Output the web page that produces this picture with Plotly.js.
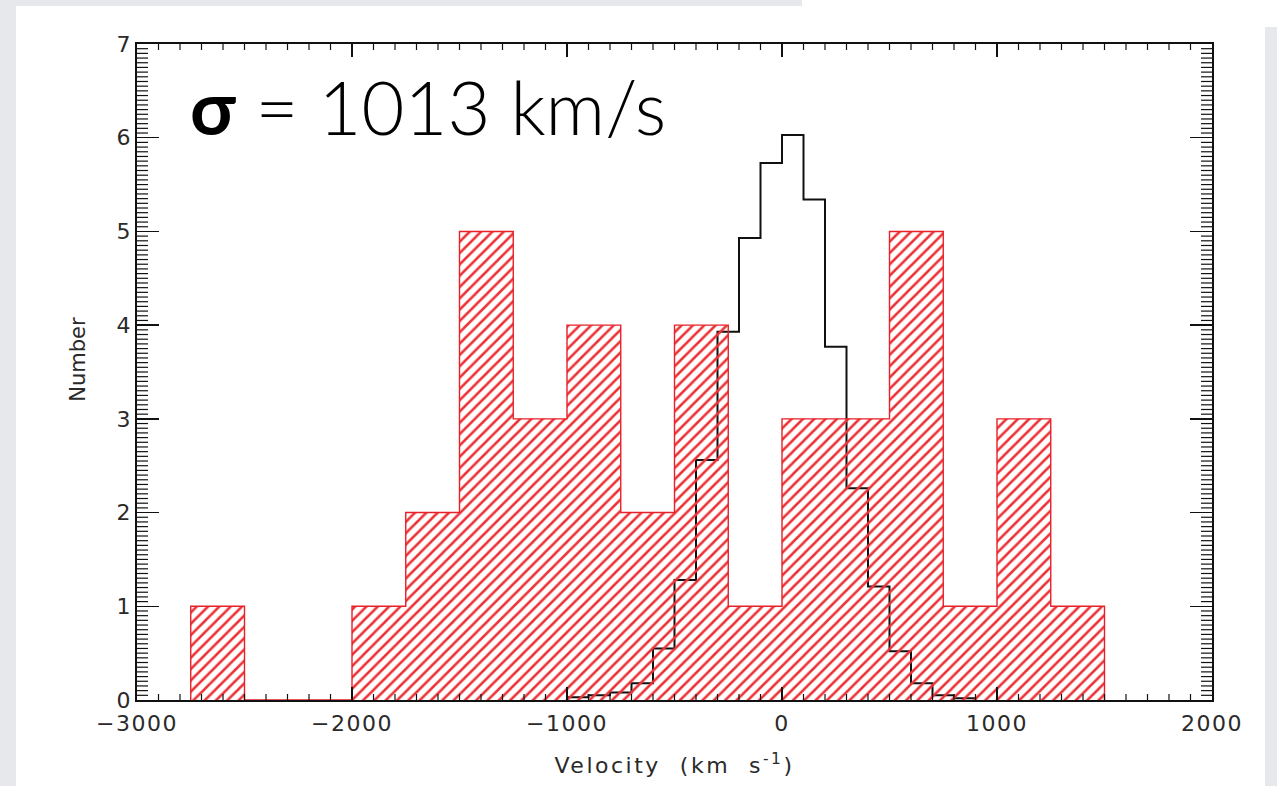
<!DOCTYPE html>
<html>
<head>
<meta charset="utf-8">
<script src="https://cdn.plot.ly/plotly-3.0.1.min.js"></script>
<style>
  html, body { margin: 0; padding: 0; background: #ffffff; overflow: hidden; }
  #page { position: relative; width: 1277px; height: 786px; }
  .band { position: absolute; background: #e6e8ec; }
  #chart { position: absolute; left: 0; top: 0; width: 1277px; height: 786px; }
  .g-xtitle text { letter-spacing: 2.5px; }
  .xtick text { letter-spacing: 1.5px; }
</style>
</head>
<body>
<div id="page">
  <div class="band" style="left:0;top:0;width:16px;height:786px;"></div>
  <div class="band" style="left:0;top:0;width:802px;height:6px;"></div>
  <div class="band" style="left:1265px;top:27px;width:12px;height:759px;"></div>
  <div id="chart"></div>
</div>
<script>
// Observed velocity histogram: 250 km/s bins starting at -2750 km/s
const obsBinStart = -2750;
const obsBinWidth = 250;
const obsCounts = [1, 0, 0, 1, 2, 5, 3, 4, 2, 4, 1, 3, 3, 5, 1, 3, 1];

// Comparison distribution: 100 km/s bins starting at -1000 km/s
const refBinStart = -1000;
const refBinWidth = 100;
const refCounts = [0.03, 0.05, 0.08, 0.18, 0.55, 1.28, 2.56, 3.93, 4.93, 5.73,
                   6.03, 5.34, 3.77, 2.26, 1.21, 0.52, 0.18, 0.05, 0.02];

const xRange = [-3000, 2000];
const yRange = [0, 7];
const xMajorStep = 1000;
const xMinorStep = 100;
const yMajorStep = 1;
const yMinorStep = 0.05;

// Figure geometry
const W = 1277, H = 786;
const M = { l: 137, r: 65, t: 44, b: 86 };
const plotW = W - M.l - M.r;
const plotH = H - M.t - M.b;

// Turn per-bin values into a closed step outline (rises from 0, falls back to 0)
function stepOutline(start, width, values) {
  const xs = [start];
  const ys = [0];
  for (let i = 0; i < values.length; i++) {
    xs.push(start + i * width);
    ys.push(values[i]);
  }
  xs.push(start + values.length * width);
  ys.push(0);
  return { x: xs, y: ys };
}

// Short inward tick segments along all four sides of the frame, in data units
function frameTicks() {
  const xs = [], ys = [];
  const xLen = 6 / plotH * (yRange[1] - yRange[0]);     // 6 px tall
  const yLen = 11 / plotW * (xRange[1] - xRange[0]);    // 11 px wide
  const nx = Math.round((xRange[1] - xRange[0]) / xMinorStep);
  for (let i = 1; i < nx; i++) {
    if (i % Math.round(xMajorStep / xMinorStep) === 0) continue;
    const v = xRange[0] + i * xMinorStep;
    xs.push(v, v, null, v, v, null);
    ys.push(yRange[0], yRange[0] + xLen, null, yRange[1], yRange[1] - xLen, null);
  }
  const ny = Math.round((yRange[1] - yRange[0]) / yMinorStep);
  for (let j = 1; j < ny; j++) {
    if (j % Math.round(yMajorStep / yMinorStep) === 0) continue;
    const v = yRange[0] + j * yMinorStep;
    xs.push(xRange[0], xRange[0] + yLen, null, xRange[1], xRange[1] - yLen, null);
    ys.push(v, v, null, v, v, null);
  }
  return { x: xs, y: ys };
}

const refStep = stepOutline(refBinStart, refBinWidth, refCounts);
const obsStep = stepOutline(obsBinStart, obsBinWidth, obsCounts);
const fine = frameTicks();

const red = 'rgb(232,32,40)';
const ink = '#111111';
const clear = 'rgba(0,0,0,0)';
const labelInk = '#2a2a2a';
const labelFamily = 'DejaVu Sans, Arial, sans-serif';
const tickFont = { family: labelFamily, size: 22, color: labelInk };

const traces = [
  {
    type: 'scatter', mode: 'lines',
    x: refStep.x, y: refStep.y,
    line: { shape: 'hv', color: ink, width: 2 },
    hoverinfo: 'skip'
  },
  {
    type: 'scatter', mode: 'lines',
    x: obsStep.x, y: obsStep.y,
    line: { shape: 'hv', color: red, width: 1.4 },
    fill: 'tozeroy', fillcolor: clear,
    fillpattern: { shape: '/', fgcolor: 'rgb(235,50,55)', bgcolor: clear, size: 8, solidity: 0.32 },
    hoverinfo: 'skip'
  },
  {
    type: 'scatter', mode: 'lines',
    x: fine.x, y: fine.y, connectgaps: false,
    line: { color: ink, width: 1.2 },
    hoverinfo: 'skip'
  }
];

const layout = {
  width: W, height: H,
  margin: M,
  paper_bgcolor: clear, plot_bgcolor: '#fff', showlegend: false,
  xaxis: {
    range: xRange, dtick: xMajorStep,
    ticks: 'inside', ticklen: 13, tickwidth: 1.5, tickcolor: ink,
    showline: true, linewidth: 2, linecolor: ink, mirror: 'allticks',
    showgrid: false, zeroline: false,
    tickfont: tickFont, ticklabelstandoff: 3,
    title: { text: 'Velocity  (km  s<sup>-1</sup>)', font: { family: labelFamily, size: 22, color: labelInk }, standoff: 22 }
  },
  yaxis: {
    range: yRange, dtick: yMajorStep,
    ticks: 'inside', ticklen: 22, tickwidth: 1.5, tickcolor: ink,
    showline: true, linewidth: 2, linecolor: ink, mirror: 'allticks',
    showgrid: false, zeroline: false,
    tickfont: tickFont
  },
  annotations: [
    {
      xref: 'paper', yref: 'paper',
      x: -0.055, y: 0.52, xanchor: 'center', yanchor: 'middle',
      textangle: -90, text: 'Number', showarrow: false,
      font: { family: labelFamily, size: 21, color: labelInk }
    },
    {
      xref: 'paper', yref: 'paper',
      x: 0.047, y: 0.905, xanchor: 'left', yanchor: 'middle',
      text: '<b>σ</b> = 1013 km/s', showarrow: false,
      font: { family: 'Lato, Open Sans, sans-serif', size: 74, color: '#000000', weight: 300 }
    }
  ]
};

Plotly.newPlot('chart', traces, layout, { staticPlot: true });
</script>
</body>
</html>
